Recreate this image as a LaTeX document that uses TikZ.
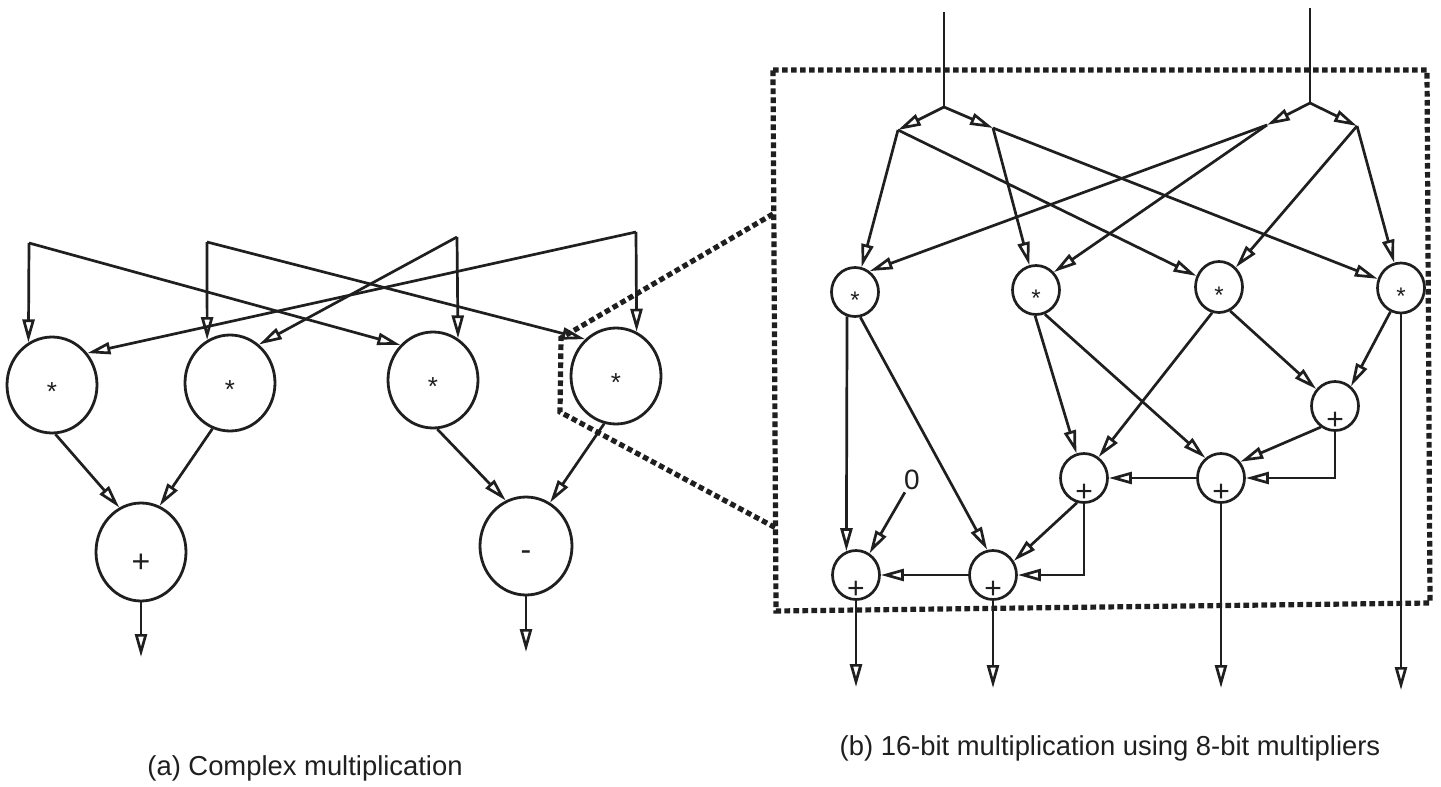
\documentclass[tikz,border=0pt]{standalone}
\usepackage{fontspec}
\setmainfont{Liberation Sans}
\usetikzlibrary{arrows.meta,shapes.geometric,calc}
\definecolor{ink}{gray}{0.12}

\begin{document}
\begin{tikzpicture}[x=0.5pt,y=-0.5pt,
  wire/.style={draw=ink,line width=1.35pt},
  arr/.style={wire,-{Triangle[length=11.5pt,width=6pt,fill=white]}},
  bigop/.style={draw=ink,ellipse,line width=1.4pt,inner sep=0pt,
    minimum width=45pt,minimum height=48pt},
  smallop/.style={draw=ink,ellipse,line width=1.35pt,inner sep=0pt,
    minimum width=23.5pt,minimum height=24.5pt},
  bigmul/.style={bigop,label={[text=ink,font=\fontsize{13}{13}\selectfont,yshift=-3.5pt]center:*}},
  smallmul/.style={smallop,label={[text=ink,font=\fontsize{12}{12}\selectfont,yshift=-4pt]center:*}},
  addop/.style={smallop,label={[text=ink,font=\fontsize{15}{15}\selectfont,yshift=-7.6pt]center:+}},
  zoomline/.style={draw=ink,line width=2.6pt,dash pattern=on 2.8pt off 1.7pt},
  caption/.style={text=ink,font=\fontsize{13.7}{16}\selectfont}
]
\fill[white] (0,0) rectangle (1441,787);
\useasboundingbox (0,0) rectangle (1441,787);

% ---------- (a) complex multiplication ----------
\node[bigmul] (c1) at (52,385) {};
\node[bigmul] (c2) at (230,383) {};
\node[bigmul] (c3) at (433,380) {};
\node[bigmul] (c4) at (616,376) {};
\node[bigop,minimum height=49pt,
      label={[text=ink,font=\fontsize{16}{16}\selectfont,yshift=-5.5pt]center:+}] (pl) at (141,552) {};
\node[bigop,minimum width=46pt,minimum height=49pt,
      label={[text=ink,font=\fontsize{16}{16}\selectfont,yshift=-5pt]center:-}] (mi) at (526,546) {};

\coordinate (ia1) at (29,243);
\coordinate (ia2) at (207,242);
\coordinate (ia3) at (457,237);
\coordinate (ia4) at (636,232);
\coordinate (opl) at (141,657);
\coordinate (omi) at (526,652);

\draw[arr] (ia1) -- (c1.119);
\draw[arr] (ia2) -- (c2.118);
\draw[arr] (ia3) -- (c3.59);
\draw[arr] (ia4) -- (c4.65);
\draw[arr] (ia1) -- (c3.133);
\draw[arr] (ia2) -- (c4.130);
\draw[arr] (ia3) -- (c2.53);
\draw[arr] (ia4) -- (c1.42);

\draw[arr] (c1.274) -- (pl.116);
\draw[arr] (c2.249) -- (pl.68);
\draw[arr] (c3.275) -- (mi.114);
\draw[arr] (c4.256) -- (mi.61);
\draw[arr] (pl) -- (opl);
\draw[arr] (mi) -- (omi);

% ---------- zoom frame ----------
\coordinate (r1) at (773,70);
\coordinate (r2) at (1427,70);
\coordinate (r3) at (1430,603);
\coordinate (r4) at (776,611);
\draw[zoomline] (r1) -- (r2) -- (r3) -- (r4) -- cycle;
\coordinate (z1) at (773,214);
\coordinate (z2) at (561,338);
\coordinate (z3) at (560,412);
\coordinate (z4) at (776,528);
\draw[zoomline] (z1) -- (z2) -- (z3) -- (z4);

% ---------- (b) 16-bit multiplication ----------
\node[smallmul] (m1) at (855,292) {};
\node[smallmul] (m2) at (1036,290) {};
\node[smallmul,minimum height=25.5pt] (m3) at (1219,287) {};
\node[smallmul,minimum height=25pt] (m4) at (1401,288) {};
\node[addop] (a) at (1084,478) {};
\node[addop] (b) at (1221,478) {};
\node[addop] (c) at (1335,406) {};
\node[addop] (d) at (856,575) {};
\node[addop] (e) at (993,575) {};
\node[text=ink,font=\fontsize{14}{14}\selectfont,inner sep=1pt] (zero) at (912,480) {0};

\coordinate (in1) at (944,12);
\coordinate (sp1) at (944,107);
\coordinate (ll) at (898,130);
\coordinate (lr) at (993,128);
\coordinate (in2) at (1310,8);
\coordinate (sp2) at (1310,103);
\coordinate (rl) at (1267,125);
\coordinate (rr) at (1357,126);

\draw[wire] (in1) -- (sp1);
\draw[wire] (in2) -- (sp2);
\draw[arr] (sp1) -- (ll);
\draw[arr] (sp1) -- (lr);
\draw[arr] (sp2) -- (rl);
\draw[arr] (sp2) -- (rr);

\draw[arr] (ll) -- (m1);
\draw[arr] (ll) -- (m3);
\draw[arr] (lr) -- (m2);
\draw[arr] (lr) -- (m4);
\draw[arr] (rl) -- (m1.55);
\draw[arr] (rl) -- (m2.45);
\draw[arr] (rr) -- (m3);
\draw[arr] (rr) -- (m4);

\draw[arr] (m1.252) -- (d.112);
\draw[arr] (m1.282) -- (e.103);
\draw[arr] (m2.268) -- (a.107);
\draw[arr] (m2.290) -- (b.128);
\draw[arr] (m3.255) -- (a.55);
\draw[arr] (m3.295) -- (c.138);
\draw[arr] (m4.246) -- (c.51);

\draw[arr] (c.236) -- (b.40);
\draw[arr] (c.south) |- (b.east);
\draw[arr] (b.west) -- (a.east);
\draw[arr] (a.254) -- (e.34);
\draw[arr] (a.south) |- (e.east);
\draw[arr] (e.west) -- (d.east);
\draw[arr] (zero) -- (d.58);

\coordinate (od) at (856,687);
\coordinate (oe) at (993,688);
\coordinate (ob) at (1221,688);
\coordinate (om) at (1401,690);
\draw[arr] (d) -- (od);
\draw[arr] (e) -- (oe);
\draw[arr] (b) -- (ob);
\draw[arr] (m4) -- (om);

% ---------- captions ----------
\node[caption] (capa) at (305,768) {(a) Complex multiplication};
\node[caption] (capb) at (1110,748) {(b) 16-bit multiplication using 8-bit multipliers};
\end{tikzpicture}
\end{document}
